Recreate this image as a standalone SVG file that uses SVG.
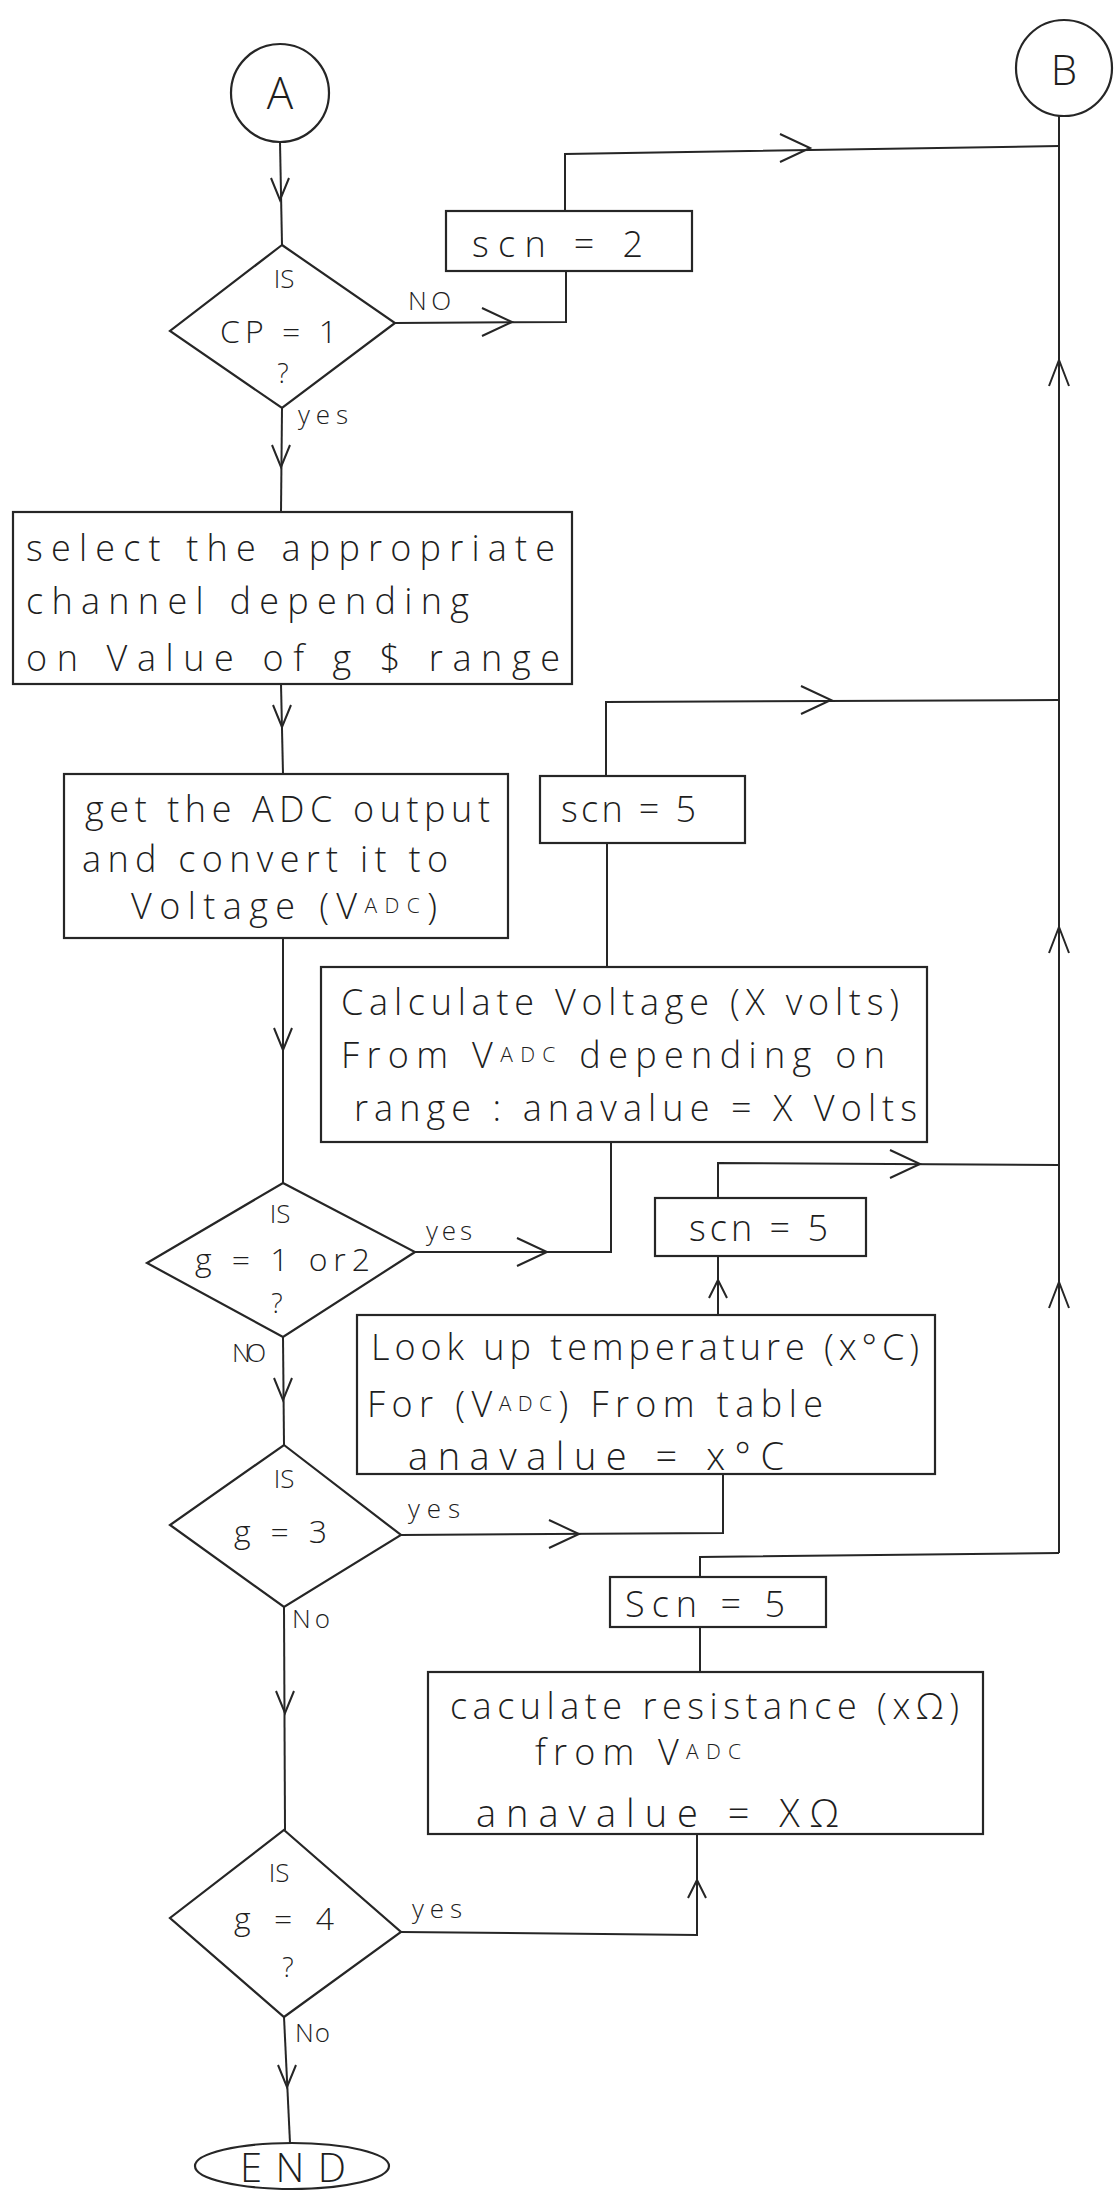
<svg xmlns="http://www.w3.org/2000/svg" xmlns:xlink="http://www.w3.org/1999/xlink" width="1114" height="2190" viewBox="0 0 1114 2190">
  <style>
    .shape { fill: none; stroke: #262626; stroke-width: 2.2; stroke-linejoin: miter; }
    .wire { fill: none; stroke: #262626; stroke-width: 2; }
    .chev { fill: none; stroke: #262626; stroke-width: 2; stroke-linejoin: miter; }
    text { font-family: "Open Sans", "DejaVu Sans", sans-serif; font-weight: 300; fill: #1e1e1e; dominant-baseline: central; }
    .big { font-size: 36px; }
    .cond { font-size: 32px; }
    .lbl { font-size: 26px; }
    .mid { text-anchor: middle; }
    .sub { font-size: 21px; }
  </style>
  <defs>
    <path id="chevDown" class="chev" d="M-9,-22 L0,0 L9,-22"/>
    <path id="chevRight" class="chev" d="M-30,-14 L0,0 L-30,14"/>
    <path id="chevUp" class="chev" d="M-10,26 L0,0 L10,26"/>
    <path id="chevUpSmall" class="chev" d="M-9,18 L0,0 L9,18"/>
  </defs>

  <rect width="1114" height="2190" fill="#ffffff"/>

  <!-- connectors -->
  <g id="connectors">
    <path class="wire" d="M280,142 L282,245"/>
    <path class="wire" d="M395,323 L566,322 L566,271"/>
    <path class="wire" d="M565,211 L565,154 L1059,146"/>
    <path class="wire" d="M1059,116 L1059,1553"/>
    <path class="wire" d="M282,408 L281,512"/>
    <path class="wire" d="M281,684 L283,774"/>
    <path class="wire" d="M283,938 L283,1183"/>
    <path class="wire" d="M415,1252 L611,1252 L611,1142"/>
    <path class="wire" d="M607,967 L607,843"/>
    <path class="wire" d="M606,776 L606,702 L1059,700"/>
    <path class="wire" d="M283,1337 L284,1445"/>
    <path class="wire" d="M401,1535 L723,1533 L723,1474"/>
    <path class="wire" d="M718,1315 L718,1256"/>
    <path class="wire" d="M718,1198 L718,1163 L1059,1165"/>
    <path class="wire" d="M1059,1553 L700,1557 L700,1577"/>
    <path class="wire" d="M700,1627 L700,1672"/>
    <path class="wire" d="M401,1932 L697,1935 L697,1834"/>
    <path class="wire" d="M284,1607 L285,1830"/>
    <path class="wire" d="M284,2017 L290,2143"/>

    <!-- direction marks drawn along the lines -->
    <use xlink:href="#chevDown" x="280" y="200"/>
    <use xlink:href="#chevDown" x="281" y="467"/>
    <use xlink:href="#chevDown" x="282" y="727"/>
    <use xlink:href="#chevDown" x="283" y="1050"/>
    <use xlink:href="#chevDown" x="283" y="1400"/>
    <use xlink:href="#chevDown" x="285" y="1713"/>
    <use xlink:href="#chevDown" x="287" y="2087"/>
    <use xlink:href="#chevRight" x="512" y="322"/>
    <use xlink:href="#chevRight" x="810" y="148"/>
    <use xlink:href="#chevRight" x="831" y="700"/>
    <use xlink:href="#chevRight" x="920" y="1164"/>
    <use xlink:href="#chevRight" x="547" y="1252"/>
    <use xlink:href="#chevRight" x="579" y="1534"/>
    <use xlink:href="#chevUp" x="1059" y="360"/>
    <use xlink:href="#chevUp" x="1059" y="927"/>
    <use xlink:href="#chevUp" x="1059" y="1282"/>
    <use xlink:href="#chevUpSmall" x="718" y="1280"/>
    <use xlink:href="#chevUpSmall" x="697" y="1880"/>

    <!-- branch labels -->
    <text class="lbl" x="408" y="300" textLength="43">NO</text>
    <text class="lbl" x="298" y="414" textLength="50">yes</text>
    <text class="lbl" x="426" y="1230" textLength="46">yes</text>
    <text class="lbl" x="232" y="1352" textLength="34">NO</text>
    <text class="lbl" x="408" y="1508" textLength="52">yes</text>
    <text class="lbl" x="292" y="1618" textLength="38">No</text>
    <text class="lbl" x="412" y="1908" textLength="50">yes</text>
    <text class="lbl" x="295" y="2032" textLength="35">No</text>
  </g>

  <!-- connector A -->
  <g id="conn-a">
    <circle class="shape" cx="280" cy="93" r="49"/>
    <text class="mid" x="280" y="92" style="font-size:44px">A</text>
  </g>

  <!-- connector B -->
  <g id="conn-b">
    <circle class="shape" cx="1064" cy="68" r="48"/>
    <text class="mid" x="1064" y="68" style="font-size:42px">B</text>
  </g>

  <!-- decision: CP = 1 -->
  <g id="dec-cp">
    <polygon class="shape" points="282,245 395,323 282,408 170,331"/>
    <text class="mid" x="284" y="278" style="font-size:26px">IS</text>
    <text class="cond" x="220" y="330" textLength="117">CP = 1</text>
    <text class="mid" x="283" y="372" style="font-size:27px">?</text>
  </g>

  <!-- process: scn = 2 -->
  <g id="set-scn2">
    <rect class="shape" x="446" y="211" width="246" height="60"/>
    <text class="big" x="472" y="243" textLength="171">scn = 2</text>
  </g>

  <!-- process: select channel -->
  <g id="select-channel">
    <rect class="shape" x="13" y="512" width="559" height="172"/>
    <text class="big" x="26" y="547" textLength="529">select  the  appropriate</text>
    <text class="big" x="26" y="600" textLength="443">channel  depending</text>
    <text class="big" x="26" y="657" textLength="534">on  Value  of  g $ range</text>
  </g>

  <!-- process: read ADC -->
  <g id="read-adc">
    <rect class="shape" x="64" y="774" width="444" height="164"/>
    <text class="big" x="85" y="808" textLength="405">get  the  ADC  output</text>
    <text class="big" x="82" y="858" textLength="366">and  convert  it  to</text>
    <text class="big" x="131" y="905" textLength="306">Voltage (V<tspan class="sub">ADC</tspan>)</text>
  </g>

  <!-- process: scn = 5 (voltage path) -->
  <g id="set-scn5-volt">
    <rect class="shape" x="540" y="776" width="205" height="67"/>
    <text class="big" x="561" y="808" textLength="135">scn = 5</text>
  </g>

  <!-- process: calculate voltage -->
  <g id="calc-voltage">
    <rect class="shape" x="321" y="967" width="606" height="175"/>
    <text class="big" x="341" y="1001" textLength="558">Calculate  Voltage  (X volts)</text>
    <text class="big" x="341" y="1054" textLength="544">From  V<tspan class="sub">ADC</tspan>  depending  on</text>
    <text class="big" x="354" y="1107" textLength="563">range : anavalue = X Volts</text>
  </g>

  <!-- decision: g = 1 or 2 -->
  <g id="dec-g12">
    <polygon class="shape" points="283,1183 415,1252 283,1337 147,1263"/>
    <text class="mid" x="280" y="1213" style="font-size:26px">IS</text>
    <text class="cond" x="195" y="1258" textLength="175">g = 1 or2</text>
    <text class="mid" x="277" y="1302" style="font-size:27px">?</text>
  </g>

  <!-- process: scn = 5 (temperature path) -->
  <g id="set-scn5-temp">
    <rect class="shape" x="655" y="1198" width="211" height="58"/>
    <text class="big" x="689" y="1227" textLength="139">scn = 5</text>
  </g>

  <!-- process: temperature lookup -->
  <g id="lookup-temp">
    <rect class="shape" x="357" y="1315" width="578" height="159"/>
    <text class="big" x="371" y="1346" textLength="548">Look up  temperature (x°C)</text>
    <text class="big" x="367" y="1403" textLength="456">For (V<tspan class="sub">ADC</tspan>)  From  table</text>
    <text class="big" x="408" y="1455" textLength="376" style="font-size:38px">anavalue  =  x°C</text>
  </g>

  <!-- decision: g = 3 -->
  <g id="dec-g3">
    <polygon class="shape" points="284,1445 401,1535 284,1607 170,1525"/>
    <text class="mid" x="284" y="1478" style="font-size:26px">IS</text>
    <text class="cond" x="234" y="1530" textLength="93">g = 3</text>
  </g>

  <!-- process: scn = 5 (resistance path) -->
  <g id="set-scn5-res">
    <rect class="shape" x="610" y="1577" width="216" height="50"/>
    <text class="big" x="625" y="1603" textLength="160">Scn = 5</text>
  </g>

  <!-- process: calculate resistance -->
  <g id="calc-resistance">
    <rect class="shape" x="428" y="1672" width="555" height="162"/>
    <text class="big" x="450" y="1705" textLength="509">caculate resistance (xΩ)</text>
    <text class="big" x="535" y="1751" textLength="206">from  V<tspan class="sub">ADC</tspan></text>
    <text class="big" x="476" y="1812" textLength="363" style="font-size:38px">anavalue  =  XΩ</text>
  </g>

  <!-- decision: g = 4 -->
  <g id="dec-g4">
    <polygon class="shape" points="284,1830 401,1932 284,2017 170,1918"/>
    <text class="mid" x="279" y="1872" style="font-size:26px">IS</text>
    <text class="cond" x="234" y="1917" textLength="100">g = 4</text>
    <text class="mid" x="288" y="1966" style="font-size:27px">?</text>
  </g>

  <!-- terminator -->
  <g id="end">
    <ellipse class="shape" cx="292" cy="2166" rx="97" ry="23"/>
    <text x="240" y="2166" textLength="106" style="font-size:40px">END</text>
  </g>
</svg>
